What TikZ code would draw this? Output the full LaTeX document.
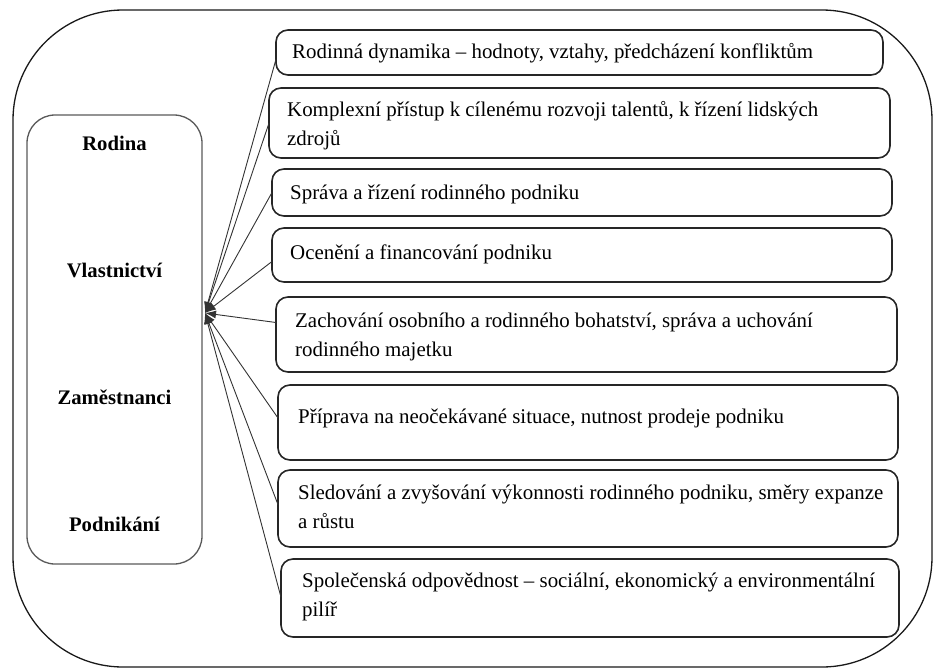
\documentclass[tikz,border=0pt]{standalone}
\usepackage{fontspec}
\setmainfont{Liberation Serif}
\usetikzlibrary{arrows.meta,calc}
\begin{document}
\begin{tikzpicture}[x=1pt,y=-1pt,
  frame/.style={draw=black!90, line width=1.3pt, rounded corners=110pt, anchor=north west, inner sep=0pt, outer sep=0pt},
  sidebox/.style={draw=black!65, line width=1.3pt, rounded corners=28pt, anchor=north west, inner sep=0pt, outer sep=0pt},
  itembox/.style={draw=black!85, line width=1.6pt, rounded corners=12pt, anchor=north west, inner sep=0pt, outer sep=0pt},
  itemtext/.style={anchor=base west, inner sep=0pt, align=left, font=\fontsize{20.9}{28.5}\selectfont},
  sidetext/.style={anchor=base, inner sep=0pt, font=\fontsize{20.7}{24}\selectfont\bfseries},
  link/.style={draw=black!80, line width=0.9pt, -{Latex[length=11pt,width=8pt]}}
]
\useasboundingbox (0,0) rectangle (934,670);

% outer frame
\node[frame, minimum width=919pt, minimum height=657pt] (outer) at (13,10) {};

% left box
\node[sidebox, minimum width=175pt, minimum height=449pt] (side) at (27,115) {};
\node[sidetext] (rodina) at (114.5,150) {Rodina};
\node[sidetext] (vlast) at (114.5,277) {Vlastnictví};
\node[sidetext] (zam) at (114.5,404) {Zaměstnanci};
\node[sidetext] (podn) at (114.5,531) {Podnikání};

\coordinate (hub) at (205,313);

% right boxes
\node[itembox, minimum width=607pt, minimum height=45pt] (b1) at (276,30) {};
\node[itembox, minimum width=621pt, minimum height=70pt] (b2) at (269,88) {};
\node[itembox, minimum width=620pt, minimum height=47pt] (b3) at (272,169) {};
\node[itembox, minimum width=620pt, minimum height=54pt] (b4) at (272,228) {};
\node[itembox, minimum width=621pt, minimum height=75pt] (b5) at (276,297) {};
\node[itembox, minimum width=620pt, minimum height=75pt] (b6) at (278,385) {};
\node[itembox, minimum width=620pt, minimum height=77pt] (b7) at (278,470) {};
\node[itembox, minimum width=618pt, minimum height=78pt] (b8) at (281,559) {};

% texts (multi-line nodes: base = last line)
\node[itemtext] (t1) at (292,58) {Rodinná dynamika – hodnoty, vztahy, předcházení konfliktům};
\node[itemtext] (t2) at (287,145) {Komplexní přístup k cílenému rozvoji talentů, k řízení lidských\\zdrojů};
\node[itemtext] (t3) at (290,199) {Správa a řízení rodinného podniku};
\node[itemtext] (t4) at (290,259) {Ocenění a financování podniku};
\node[itemtext] (t5) at (295,356) {Zachování osobního a rodinného bohatství, správa a uchování\\rodinného majetku};
\node[itemtext] (t6) at (298,423) {Příprava na neočekávané situace, nutnost prodeje podniku};
\node[itemtext] (t7) at (298,528) {Sledování a zvyšování výkonnosti rodinného podniku, směry expanze\\a růstu};
\node[itemtext] (t8) at (302,616) {Společenská odpovědnost – sociální, ekonomický a environmentální\\pilíř};

% connectors
\draw[link] ($(b1.north west)!0.65!(b1.south west)$) -- (hub);
\draw[link] (b2.west) -- (hub);
\draw[link] (b3.west) -- (hub);
\draw[link] ($(b4.north west)!0.62!(b4.south west)$) -- (hub);
\draw[link] ($(b5.north west)!0.34!(b5.south west)$) -- (hub);
\draw[link] ($(b6.north west)!0.44!(b6.south west)$) -- (hub);
\draw[link] ($(b7.north west)!0.45!(b7.south west)$) -- (hub);
\draw[link] ($(b8.north west)!0.49!(b8.south west)$) -- (hub);
\end{tikzpicture}
\end{document}
